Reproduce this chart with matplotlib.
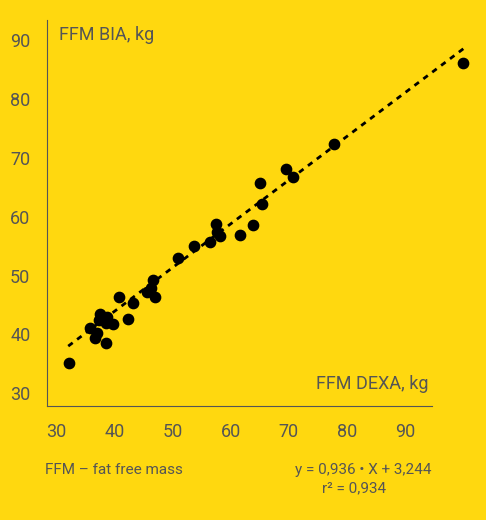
import matplotlib
matplotlib.use("Agg")
import matplotlib.pyplot as plt
import numpy as np

plt.rcParams['font.family'] = ['Roboto', 'DejaVu Sans']

dexa = [32.2, 35.8, 36.7, 37.0, 37.4, 37.6, 38.3, 38.6, 38.8, 38.6, 39.8, 40.8,
        42.4, 43.2, 45.6, 46.3, 46.7, 47.0, 51.0, 53.7, 56.5, 57.5, 57.7, 58.2,
        61.6, 63.8, 65.0, 65.4, 69.5, 70.7, 77.8, 99.9]
bia = [35.1, 41.0, 39.3, 40.3, 42.4, 43.4, 42.7, 42.0, 42.9, 38.6, 41.8, 46.3,
       42.6, 45.4, 47.2, 47.9, 49.3, 46.4, 52.9, 55.0, 55.7, 58.8, 57.4, 56.7,
       56.9, 58.6, 65.7, 62.2, 68.1, 66.8, 72.3, 86.2]
fit_x = [32.1, 100.6]
fit_y = [38.0, 89.0]

bg = '#FFD80F'
grey = '#555555'

fig = plt.figure(figsize=(4.86, 5.2), dpi=100, facecolor=bg)
ax = fig.add_axes([0.0967, 0.219, 0.792, 0.742], facecolor=bg)

ax.plot(fit_x, fit_y, ls=(0, (2, 2)), color='black', lw=2, clip_on=False)
ax.scatter(dexa, bia, s=55, color='black', zorder=3, clip_on=False)

ax.set_xlim(28.45, 94.6)
ax.set_ylim(27.8, 93.4)
ax.set_xticks(range(30, 91, 10))
ax.set_yticks(range(30, 91, 10))
for s in ['top', 'right']:
    ax.spines[s].set_visible(False)
for s in ['left', 'bottom']:
    ax.spines[s].set_color(grey)
ax.tick_params(length=0, labelsize=13, colors=grey, pad=12)

ax.text(0.03, 0.985, 'FFM BIA, kg', transform=ax.transAxes, fontsize=13,
        color=grey, va='top', ha='left')
ax.text(0.99, 0.035, 'FFM DEXA, kg', transform=ax.transAxes, fontsize=13,
        color=grey, va='bottom', ha='right')

fig.text(0.093, 0.089, 'FFM – fat free mass', fontsize=11, color=grey)
fig.text(0.888, 0.089, 'y = 0,936 • X + 3,244', fontsize=11, color=grey, ha='right')
fig.text(0.663, 0.053, 'r² = 0,934', fontsize=11, color=grey, ha='left')

fig.savefig('out.png', dpi=100, facecolor=bg)
